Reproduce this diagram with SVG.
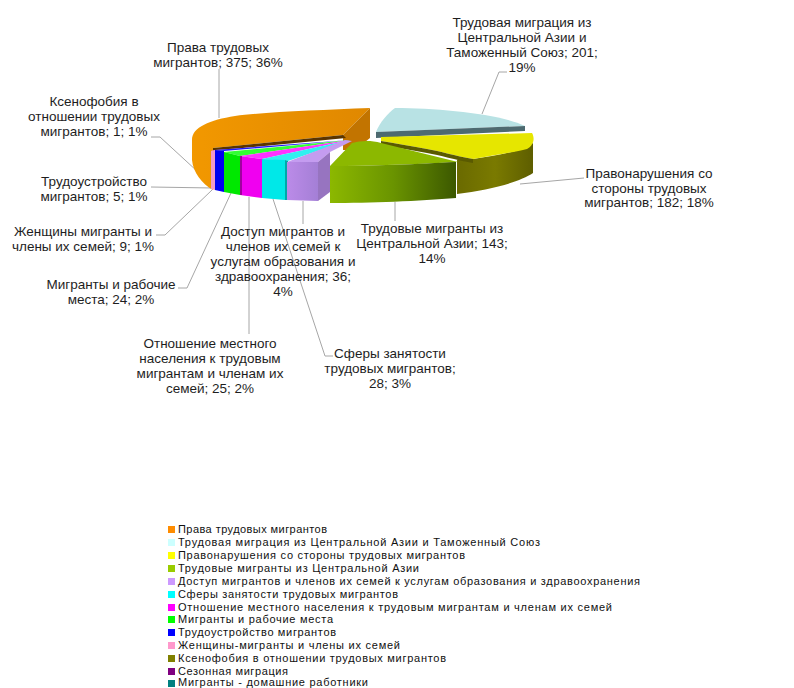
<svg xmlns="http://www.w3.org/2000/svg" width="794" height="688" viewBox="0 0 794 688">
<defs>
<style>
.lbl{font-family:"Liberation Sans",Arial,sans-serif;font-size:13.5px;fill:#1e1e1e;text-anchor:middle}
.leg{font-family:"Liberation Sans",Arial,sans-serif;font-size:11px;fill:#111}
.ld{fill:none;stroke:#a6a6a6;stroke-width:1}
</style>
<linearGradient id="gOr" x1="0" y1="0" x2="1" y2="0"><stop offset="0" stop-color="#f29800"/><stop offset="1" stop-color="#e08800"/></linearGradient>
<linearGradient id="gGr" x1="0" y1="0" x2="1" y2="0"><stop offset="0" stop-color="#8cb800"/><stop offset="0.5" stop-color="#6a9400"/><stop offset="1" stop-color="#3c5800"/></linearGradient>
<linearGradient id="gOl" x1="0" y1="0" x2="1" y2="0"><stop offset="0" stop-color="#6a6a00"/><stop offset="0.5" stop-color="#7a7a00"/><stop offset="1" stop-color="#5e5e00"/></linearGradient>
<linearGradient id="gLv" x1="0" y1="0" x2="1" y2="0"><stop offset="0" stop-color="#bb8be8"/><stop offset="1" stop-color="#a47fd6"/></linearGradient>
</defs>
<rect width="794" height="688" fill="#fff"/>

<g id="connectors">
<polyline class="ld" points="219,69 219,118"/>
<polyline class="ld" points="151,137 160,137 210,183"/>
<polyline class="ld" points="151,187 213,188"/>
<polyline class="ld" points="156,235 165,235 212,190"/>
<polyline class="ld" points="178,288 187,288 231,193"/>
<polyline class="ld" points="249,197 249,334"/>
<polyline class="ld" points="303,201 303,224"/>
<polyline class="ld" points="273,199 325,356 333,356"/>
<polyline class="ld" points="395,202 395,221"/>
<polyline class="ld" points="520,184 584,178"/>
<polyline class="ld" points="507,72 499,72 482,114"/>
</g>

<g id="slice-prava">
<path d="M192,140 C192,127 210,120 235,116 C265,112 320,110 370,108 L343,135 L213,148 L213,190 C202,184 193,172 192,160 Z" fill="url(#gOr)"/>
<path d="M343,135 L370,108 L370,138 L355,150 L343,150 Z" fill="#c27400"/>
<path d="M213,148 L343,135 L346,138 L213,151 Z" fill="#5a3500"/>
</g>

<g id="slice-tamozh">
<path d="M376,132 C380,122 388,113 395,108 C440,108 500,114 525,126 L376,132 Z" fill="#b8e2e4"/>
<path d="M376,132 L525,126 L525,131 L376,138 Z" fill="#4d6a70"/>
</g>

<g id="slice-pravonar">
<path d="M457,160 L473,159 C495,156 520,152 533,143 L533,173 C520,182 490,190 457,194 Z" fill="url(#gOl)"/>
<path d="M381,137 L532,133 C535,138 534,145 527,149 C515,152 495,155 473,159 C455,156 440,151 427,149 C410,146 395,143 381,141 Z" fill="#e6e600"/>
<path d="M381,141 C395,143 410,146 427,149 C440,151 455,156 473,159 L473,163 C455,160 440,155 427,153 C410,150 395,147 381,146 Z" fill="#5a5a00"/>
</g>

<g id="slice-tca">
<path d="M330,166 L352,143 C360,141 370,140 381,143 L458,162 C420,164 370,166 330,166 Z" fill="#8cb800"/>
<path d="M330,166 C370,166 420,164 456,162 L456,198 C420,201 370,203 330,203 Z" fill="url(#gGr)"/>
</g>

<g id="small-tops">
<polygon points="211,151 215,150 350,140" fill="#f7b0d6"/>
<polygon points="215,150 224,151 350,140" fill="#1a1aff"/>
<polygon points="224,152 240,156 350,140" fill="#33ff33"/>
<polygon points="240,156 262,159 350,140" fill="#ff33ff"/>
<polygon points="262,159 288,161 350,140" fill="#33f0f0"/>
<polygon points="287,162 318,162 330,152 352,141 345,140" fill="#c49cf0"/>
</g>

<g id="slice-zhensh"><path d="M211,151 L215,150 L215,190 L211,189 Z" fill="#f29ac8"/></g>
<g id="slice-trudoustr"><path d="M215,150 L224,151 L224,192 L215,190 Z" fill="#0000f0"/></g>
<g id="slice-rabochie"><path d="M224,152 L240,156 L240,195 L224,192 Z" fill="#00e800"/></g>
<g id="slice-otnoshenie"><path d="M240,156 L262,159 L262,198 L240,195 Z" fill="#f000f0"/><path d="M240,156 L242,156 L242,195 L240,195 Z" fill="#a000a0"/></g>
<g id="slice-sfery"><path d="M262,159 L285,160 L285,200 L262,198 Z" fill="#00e8e8"/><path d="M285,160 L288,161 L288,200 L285,200 Z" fill="#00a8a8"/></g>
<g id="slice-dostup">
<path d="M287,162 L318,162 L318,201 L287,200 Z" fill="url(#gLv)"/>
<path d="M318,162 L330,152 L330,192 L318,201 Z" fill="#9774c0"/>
</g>

<g id="labels">
<text class="lbl"><tspan x="218" y="52">Права трудовых</tspan><tspan x="218" y="67">мигрантов; 375; 36%</tspan></text>
<text class="lbl"><tspan x="94" y="106">Ксенофобия в</tspan><tspan x="94" y="121">отношении трудовых</tspan><tspan x="94" y="136">мигрантов; 1; 1%</tspan></text>
<text class="lbl"><tspan x="94" y="186">Трудоустройство</tspan><tspan x="94" y="201">мигрантов; 5; 1%</tspan></text>
<text class="lbl"><tspan x="83" y="236">Женщины мигранты и</tspan><tspan x="83" y="251">члены их семей; 9; 1%</tspan></text>
<text class="lbl"><tspan x="111" y="289">Мигранты и рабочие</tspan><tspan x="111" y="304">места; 24; 2%</tspan></text>
<text class="lbl"><tspan x="210" y="348">Отношение местного</tspan><tspan x="210" y="363">населения к трудовым</tspan><tspan x="210" y="378">мигрантам и членам их</tspan><tspan x="210" y="393">семей; 25; 2%</tspan></text>
<text class="lbl"><tspan x="283" y="236">Доступ мигрантов и</tspan><tspan x="283" y="251">членов их семей к</tspan><tspan x="283" y="266">услугам образования и</tspan><tspan x="283" y="281">здравоохранения; 36;</tspan><tspan x="283" y="296">4%</tspan></text>
<text class="lbl"><tspan x="390" y="358">Сферы занятости</tspan><tspan x="390" y="373">трудовых мигрантов;</tspan><tspan x="390" y="388">28; 3%</tspan></text>
<text class="lbl"><tspan x="432" y="233">Трудовые мигранты из</tspan><tspan x="432" y="248">Центральной Азии; 143;</tspan><tspan x="432" y="263">14%</tspan></text>
<text class="lbl"><tspan x="649" y="178">Правонарушения со</tspan><tspan x="649" y="193">стороны трудовых</tspan><tspan x="649" y="207">мигрантов; 182; 18%</tspan></text>
<text class="lbl"><tspan x="522" y="27">Трудовая миграция из</tspan><tspan x="522" y="42">Центральной Азии и</tspan><tspan x="522" y="57">Таможенный Союз; 201;</tspan><tspan x="522" y="72">19%</tspan></text>
</g>

<g id="legend">
<rect x="168" y="526" width="7" height="7" fill="#ff8c00"/><text class="leg" x="178" y="533" textLength="149" lengthAdjust="spacing">Права трудовых мигрантов</text>
<rect x="168" y="539" width="7" height="7" fill="#ccffff"/><text class="leg" x="178" y="546" textLength="362" lengthAdjust="spacing">Трудовая миграция из Центральной Азии и Таможенный Союз</text>
<rect x="168" y="552" width="7" height="7" fill="#ffff00"/><text class="leg" x="178" y="559" textLength="287" lengthAdjust="spacing">Правонарушения со стороны трудовых мигрантов</text>
<rect x="168" y="565" width="7" height="7" fill="#99cc00"/><text class="leg" x="178" y="572" textLength="241" lengthAdjust="spacing">Трудовые мигранты из Центральной Азии</text>
<rect x="168" y="578" width="7" height="7" fill="#cc99ff"/><text class="leg" x="178" y="585" textLength="462" lengthAdjust="spacing">Доступ мигрантов и членов их семей к услугам образования и здравоохранения</text>
<rect x="168" y="591" width="7" height="7" fill="#00ffff"/><text class="leg" x="178" y="598" textLength="220" lengthAdjust="spacing">Сферы занятости трудовых мигрантов</text>
<rect x="168" y="604" width="7" height="7" fill="#ff00ff"/><text class="leg" x="178" y="611" textLength="434" lengthAdjust="spacing">Отношение местного населения к трудовым мигрантам и членам их семей</text>
<rect x="168" y="616" width="7" height="7" fill="#00ff00"/><text class="leg" x="178" y="623" textLength="155" lengthAdjust="spacing">Мигранты и рабочие места</text>
<rect x="168" y="629" width="7" height="7" fill="#0000ff"/><text class="leg" x="178" y="636" textLength="158" lengthAdjust="spacing">Трудоустройство мигрантов</text>
<rect x="168" y="642" width="7" height="7" fill="#ff99cc"/><text class="leg" x="178" y="649" textLength="222" lengthAdjust="spacing">Женщины-мигранты и члены их семей</text>
<rect x="168" y="655" width="7" height="7" fill="#808000"/><text class="leg" x="178" y="662" textLength="268" lengthAdjust="spacing">Ксенофобия в отношении трудовых мигрантов</text>
<rect x="168" y="668" width="7" height="7" fill="#800080"/><text class="leg" x="178" y="675" textLength="110" lengthAdjust="spacing">Сезонная миграция</text>
<rect x="168" y="680" width="7" height="7" fill="#008080"/><text class="leg" x="178" y="686" textLength="190" lengthAdjust="spacing">Мигранты - домашние работники</text>
</g>
</svg>
